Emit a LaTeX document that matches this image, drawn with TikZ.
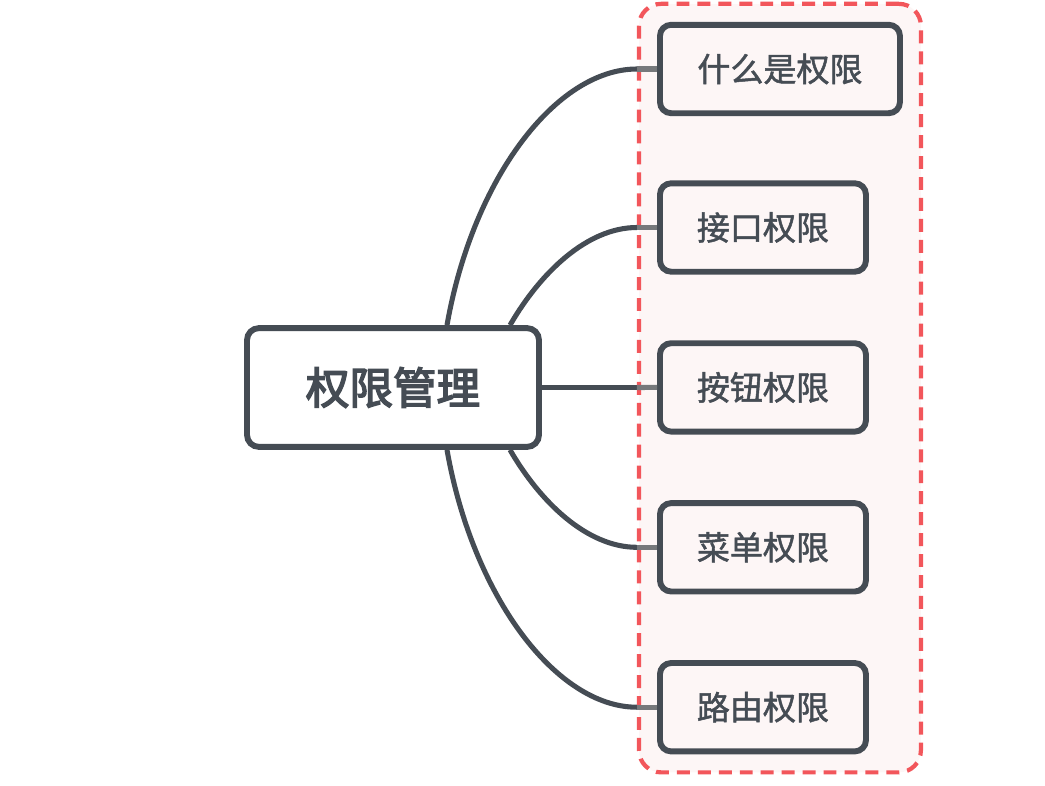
\documentclass[tikz,border=0pt]{standalone}
\usepackage{fontspec}
\newfontfamily\cjkroot[FakeBold=3.5]{Noto Sans CJK SC}
\newfontfamily\cjkleaf[FakeBold=1.5]{Noto Sans CJK SC}
\usepackage{xcolor}
\usetikzlibrary{positioning,fit,backgrounds}
\definecolor{ink}{HTML}{454C54}
\definecolor{grouped}{HTML}{F2565B}
\definecolor{groupfill}{HTML}{FDF6F6}
\definecolor{stub}{HTML}{76787B}

\begin{document}
\begin{tikzpicture}[
  root/.style={draw=ink, line width=4.2pt, rounded corners=0.3cm, fill=white,
               minimum width=7.3cm, minimum height=2.97cm, text=ink,
               font=\cjkroot\fontsize{31}{36}\selectfont},
  leaf/.style={draw=ink, line width=4.2pt, rounded corners=0.28cm, fill=groupfill,
               minimum width=5.15cm, minimum height=2.21cm, text=ink,
               font=\cjkleaf\fontsize{23.5}{28}\selectfont, anchor=west},
  group/.style={draw=grouped, line width=3pt, dash pattern=on 9.2pt off 5.7pt,
                rounded corners=0.55cm, fill=groupfill, inner sep=0.45cm},
  link/.style={draw=ink, line width=3.6pt},
  stublink/.style={draw=stub, line width=3.6pt},
]
\useasboundingbox (0,0) rectangle (26.125,-19.625);

\node[root] (perm) at (9.825,-9.6875) {权限管理};
\node[leaf, minimum width=6cm] (c1) at (16.425,-1.725) {什么是权限};
\node[leaf] (c2) at (16.425,-5.6875) {接口权限};
\node[leaf, below=1.64cm of c2] (c3) {按钮权限};
\node[leaf, below=1.64cm of c3] (c4) {菜单权限};
\node[leaf, below=1.64cm of c4] (c5) {路由权限};

\begin{scope}[on background layer]
  \node[group, fit=(c1)(c5)] (box) {};
\end{scope}

\draw[link] ([xshift=1.35cm]perm.north)
  to[out=80,in=180,out distance=3.75cm,in distance=2cm] (c1.west -| box.west);
\draw[link] ([xshift=2.925cm]perm.north)
  to[out=60,in=180,out distance=1.5cm,in distance=1.25cm] (c2.west -| box.west);
\draw[link] (perm.east) -- (perm.east -| box.west);
\draw[link] ([xshift=2.925cm]perm.south)
  to[out=-60,in=180,out distance=1.5cm,in distance=1.25cm] (c4.west -| box.west);
\draw[link] ([xshift=1.35cm]perm.south)
  to[out=-80,in=180,out distance=3.75cm,in distance=2cm] (c5.west -| box.west);

\draw[stublink] (c1.west -| box.west) -- (c1.west);
\draw[stublink] (c2.west -| box.west) -- (c2.west);
\draw[stublink] (perm.east -| box.west) -- (c3.west);
\draw[stublink] (c4.west -| box.west) -- (c4.west);
\draw[stublink] (c5.west -| box.west) -- (c5.west);
\end{tikzpicture}
\end{document}
